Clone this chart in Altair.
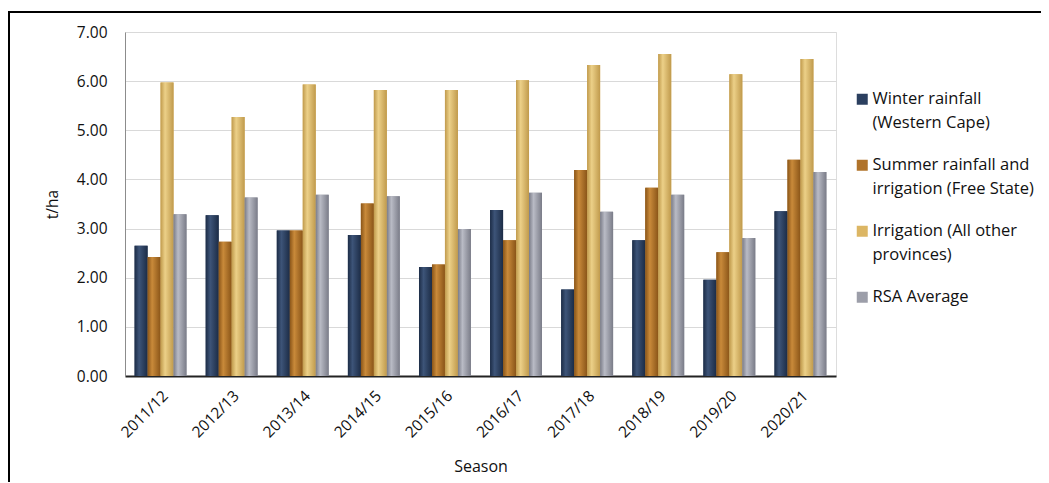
import altair as alt
import pandas as pd

seasons = ["2011/12", "2012/13", "2013/14", "2014/15", "2015/16",
           "2016/17", "2017/18", "2018/19", "2019/20", "2020/21"]
series = ["Winter rainfall (Western Cape)",
          "Summer rainfall and irrigation (Free State)",
          "Irrigation (All other provinces)",
          "RSA Average"]
legend_lines = [["Winter rainfall", "(Western Cape)"],
                ["Summer rainfall and", "irrigation (Free State)"],
                ["Irrigation (All other", "provinces)"],
                ["RSA Average"]]
winter = [2.65, 3.27, 2.96, 2.87, 2.22, 3.38, 1.76, 2.76, 1.96, 3.35]
summer = [2.42, 2.73, 2.96, 3.51, 2.27, 2.76, 4.19, 3.83, 2.52, 4.40]
irrig = [5.97, 5.27, 5.93, 5.82, 5.82, 6.02, 6.33, 6.55, 6.14, 6.45]
rsa = [3.29, 3.63, 3.69, 3.66, 2.99, 3.73, 3.34, 3.69, 2.81, 4.15]
colors = ["#2b3f5f", "#b0732a", "#dcb664", "#9c9ea9"]
edge_colors = ["#1c2c46", "#8a5518", "#c09a4c", "#7a7c88"]
mid_colors = ["#3d5478", "#c98a3a", "#ecd088", "#b9bbc5"]

rows = []
for s, vals in zip(series, [winter, summer, irrig, rsa]):
    for season, v in zip(seasons, vals):
        rows.append({"season": season, "series": s, "value": v})
df = pd.DataFrame(rows)

label_expr = ""
for s, lines in zip(series, legend_lines):
    arr = "[" + ", ".join("'" + l + "'" for l in lines) + "]"
    label_expr += f"datum.label == '{s}' ? {arr} : "
label_expr += "datum.label"

FONT = "Open Sans"

x_enc = alt.X("season:N", sort=seasons, title="Season",
              scale=alt.Scale(paddingInner=0.27, paddingOuter=0.135),
              axis=alt.Axis(labelAngle=-45, labelFontSize=15.5, labelPadding=12,
                            titleFontSize=16, titleFontWeight="normal",
                            titlePadding=18, ticks=False, grid=False,
                            domainColor="#222222", domainWidth=2,
                            labelColor="#111111", titleColor="#111111",
                            labelFont=FONT, titleFont=FONT))
y_enc = alt.Y("value:Q", title="t/ha",
              scale=alt.Scale(domain=[0, 7], nice=False),
              axis=alt.Axis(values=[0, 1, 2, 3, 4, 5, 6, 7], format=".2f",
                            labelFontSize=15.5, labelPadding=18, ticks=False,
                            gridColor="#d9d9d9", domainColor="#8c8c8c",
                            titleFontSize=15.5, titleFontWeight="normal",
                            titlePadding=16, labelColor="#111111",
                            titleColor="#111111", labelFont=FONT, titleFont=FONT))
xo_enc = alt.XOffset("series:N", sort=series, scale=alt.Scale(domain=series))

base = alt.Chart(df).mark_bar().encode(
    x=x_enc, y=y_enc, xOffset=xo_enc,
    color=alt.Color("series:N", sort=series,
                    scale=alt.Scale(domain=series, range=colors),
                    legend=alt.Legend(title=None, orient="none", legendX=729,
                                      legendY=59, symbolType="square",
                                      symbolSize=121, symbolStrokeWidth=0,
                                      labelFontSize=16.5, labelFont=FONT,
                                      labelColor="#111111", labelLimit=300,
                                      labelExpr=label_expr, rowPadding=25,
                                      labelOffset=2, padding=0)),
)

layers = [base]
for s, e, m in zip(series, edge_colors, mid_colors):
    grad = alt.Gradient(gradient="linear", x1=0, x2=1, y1=0, y2=0,
                        stops=[alt.GradientStop(color=e, offset=0),
                               alt.GradientStop(color=m, offset=0.35),
                               alt.GradientStop(color=e, offset=1)])
    layers.append(
        alt.Chart(df).transform_filter(alt.datum.series == s)
        .mark_bar(color=grad)
        .encode(x=x_enc, y=y_enc, xOffset=xo_enc)
    )

frame = alt.Chart(df).mark_rect(fillOpacity=0, stroke="black", strokeWidth=2).encode(
    x=alt.value(-116), x2=alt.value(940), y=alt.value(-20), y2=alt.value(480)
)
layers.append(frame)

chart = alt.layer(*layers).properties(
    width=711, height=344,
    autosize=alt.AutoSizeParams(type="none"),
    padding={"left": 117, "top": 24, "right": 205, "bottom": 106},
    background="white",
).configure_view(stroke="#a6a6a6", strokeWidth=1).configure(
    style={"guide-label": {"lineHeight": 24}}
)

chart.save("out.html", embed_options={"renderer": "svg", "actions": False})
